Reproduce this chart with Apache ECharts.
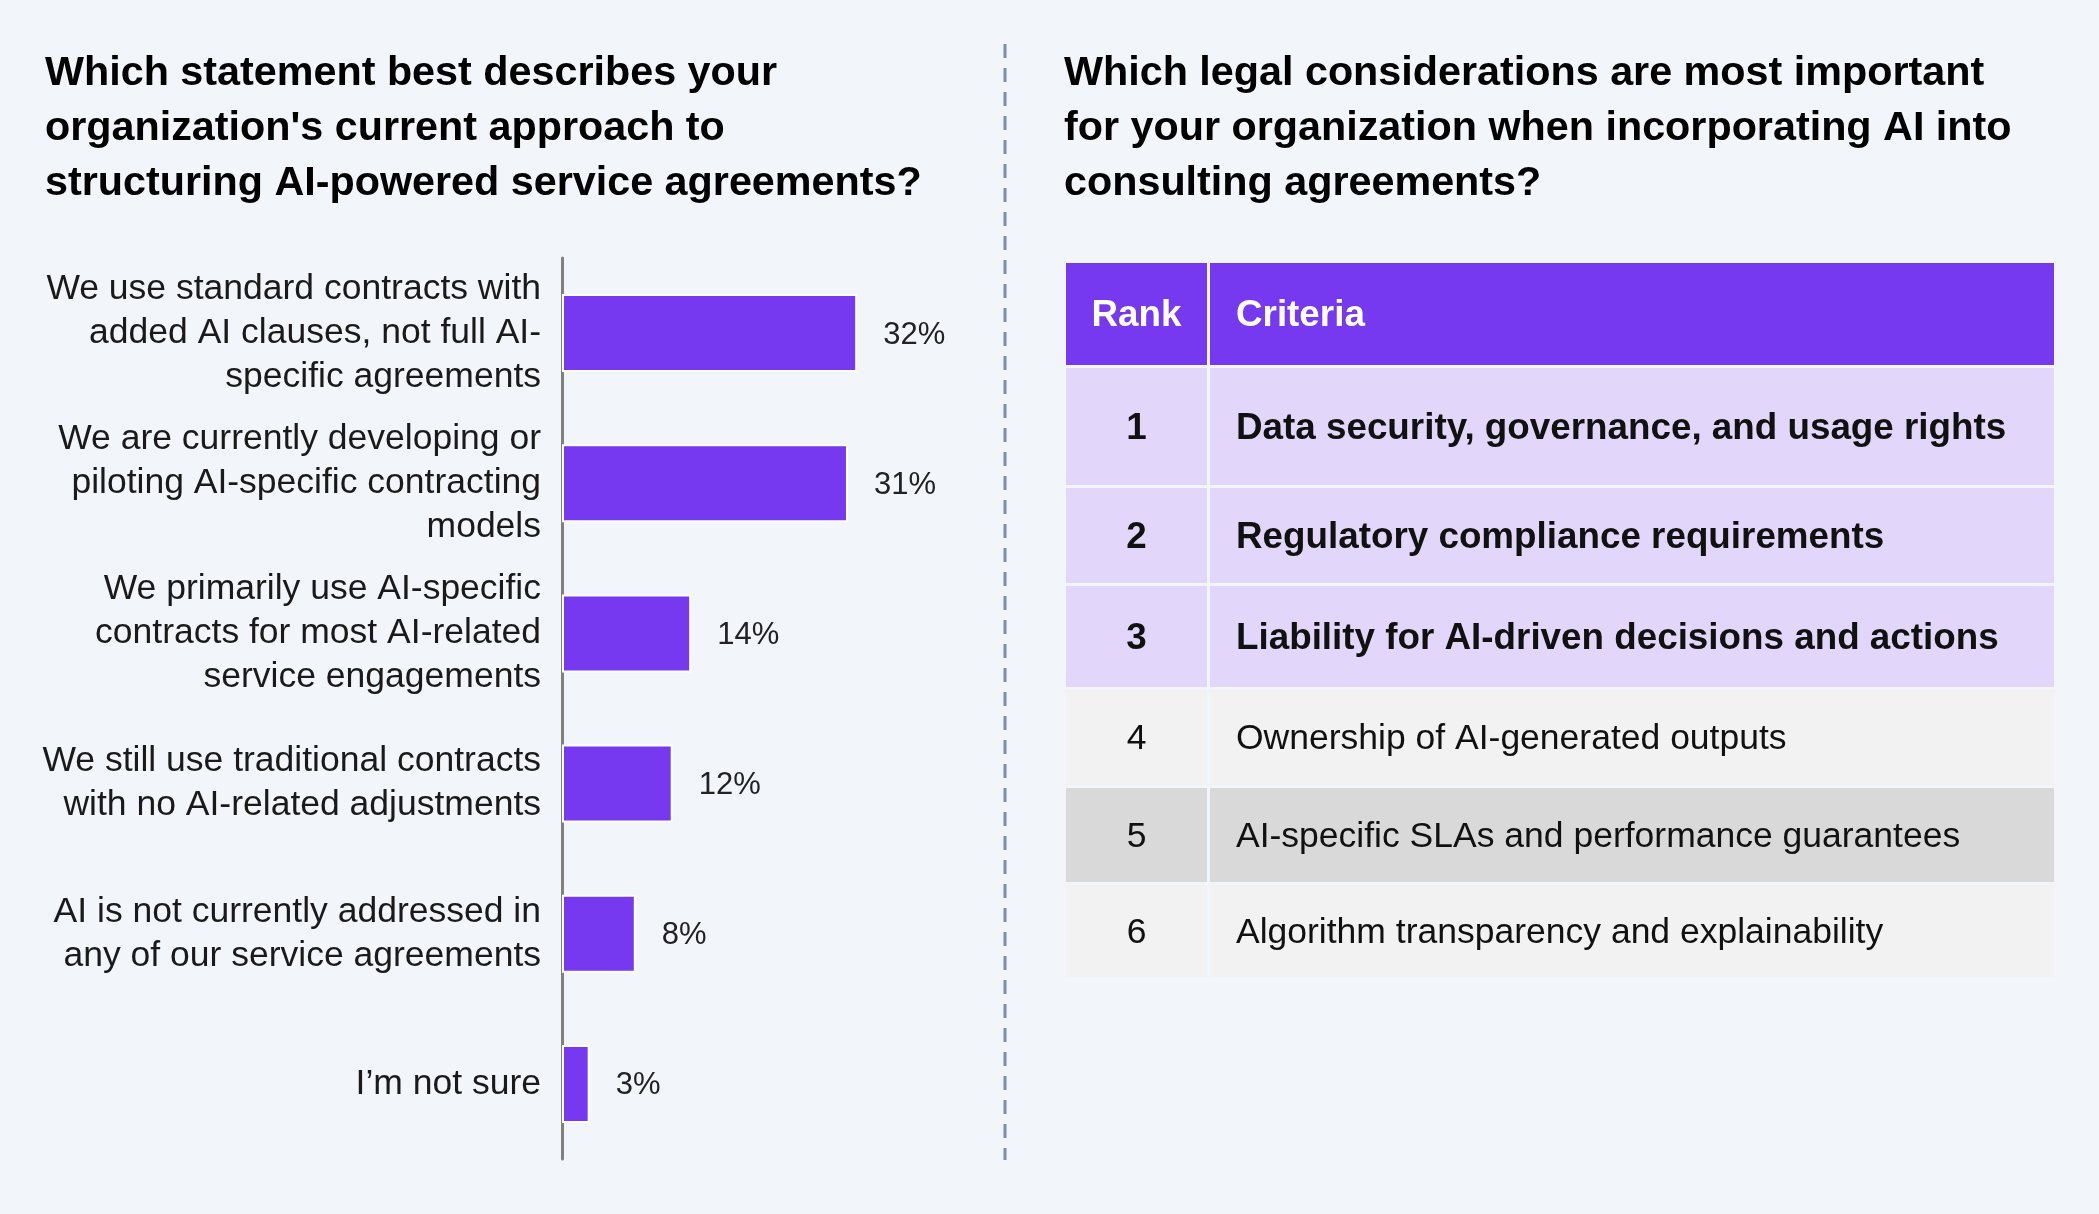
<!DOCTYPE html>
<html>
<head>
<meta charset="utf-8">
<title>AI service agreements</title>
<script src="https://cdn.jsdelivr.net/npm/echarts@6/dist/echarts.min.js"></script>
<style>
  html, body { margin: 0; padding: 0; background: #f2f5f9; }
  #chart { width: 2099px; height: 1214px; }
</style>
</head>
<body>
<div id="chart"></div>
<script>
// left: survey answers
const categories = [
  'We use standard contracts with\nadded AI clauses, not full AI-\nspecific agreements',
  'We are currently developing or\npiloting AI-specific contracting\nmodels',
  'We primarily use AI-specific\ncontracts for most AI-related\nservice engagements',
  'We still use traditional contracts\nwith no AI-related adjustments',
  'AI is not currently addressed in\nany of our service agreements',
  'I\u2019m not sure'
]
const shares = [32, 31, 14, 12, 8, 3]

// right: ranking table
const tableHeader = ['Rank', 'Criteria']
const ranks = [1, 2, 3, 4, 5, 6]
const criteria = [
  'Data security, governance, and usage rights',
  'Regulatory compliance requirements',
  'Liability for AI-driven decisions and actions',
  'Ownership of AI-generated outputs',
  'AI-specific SLAs and performance guarantees',
  'Algorithm transparency and explainability'
]

const leftTitle = 'Which statement best describes your\norganization\'s current approach to\nstructuring AI-powered service agreements?'
const rightTitle = 'Which legal considerations are most important\nfor your organization when incorporating AI into\nconsulting agreements?'

const FONT = '"Liberation Sans", Arial, Helvetica, sans-serif'
const PURPLE = '#7639f0'

/** table layout: header + 6 rows, heights in px incl. 3px gap */
const rowHeights = [105, 120, 98, 104, 98, 97, 95]
const rowFills = [PURPLE, '#e2d7fa', '#e2d7fa', '#e2d7fa', '#f2f2f2', '#d9d9d9', '#f2f2f2']
const rowTops = []
rowHeights.reduce((acc, h) => { rowTops.push(acc); return acc + h }, 0)
const tableHeight = rowHeights.reduce((a, b) => a + b, 0)
const rankCol = 141 / 988
const colGap = 3 / 988
const cellGap = 3

const tableRows = [tableHeader].concat(ranks.map((r, i) => [String(r), criteria[i]]))

function renderRow(params, api) {
  const i = params.dataIndex
  const row = tableRows[i]
  const top = rowTops[i]
  const bottom = top + rowHeights[i] - cellGap
  const a = api.coord([0, top])
  const b = api.coord([rankCol, bottom])
  const c = api.coord([rankCol + colGap, top])
  const d = api.coord([1, bottom])
  const midY = (a[1] + b[1]) / 2 + 2
  const isHeader = i === 0
  const bold = i <= 3
  const textFill = isHeader ? '#ffffff' : '#111111'
  const fill = rowFills[i]
  const fontSize = bold ? 36.8 : 35.5
  return {
    type: 'group',
    children: [
      { type: 'rect', shape: { x: a[0], y: a[1], width: b[0] - a[0], height: b[1] - a[1] }, style: { fill } },
      { type: 'rect', shape: { x: c[0], y: c[1], width: d[0] - c[0], height: d[1] - c[1] }, style: { fill } },
      {
        type: 'text',
        x: (a[0] + b[0]) / 2,
        y: midY,
        style: {
          text: row[0], fill: textFill, align: 'center', verticalAlign: 'middle',
          fontSize, fontWeight: bold ? 'bold' : 'normal', fontFamily: FONT
        }
      },
      {
        type: 'text',
        x: c[0] + 26,
        y: midY,
        style: {
          text: row[1], fill: textFill, align: 'left', verticalAlign: 'middle',
          fontSize, fontWeight: bold ? 'bold' : 'normal', fontFamily: FONT
        }
      }
    ]
  }
}

const chart = echarts.init(document.getElementById('chart'))
const option = {
  backgroundColor: '#f2f5f9',
  animation: false,
  textStyle: { fontFamily: FONT },
  title: [
    {
      text: leftTitle, left: 45, top: 46, padding: 0,
      textStyle: { fontSize: 41.3, fontWeight: 'bold', color: '#000', lineHeight: 55, fontFamily: FONT }
    },
    {
      text: rightTitle, left: 1064, top: 46, padding: 0,
      textStyle: { fontSize: 41.3, fontWeight: 'bold', color: '#000', lineHeight: 55, fontFamily: FONT }
    }
  ],
  graphic: [
    {
      type: 'line',
      shape: { x1: 1005, y1: 44, x2: 1005, y2: 1160 },
      style: { stroke: '#7b8fae', lineWidth: 3, lineDash: [14, 10] }
    }
  ],
  grid: [
    { left: 562, top: 258, right: 1168, bottom: 55, outerBoundsMode: 'none' },
    { left: 1066, top: 263, right: 45, height: tableHeight, outerBoundsMode: 'none' }
  ],
  xAxis: [
    { type: 'value', gridIndex: 0, min: 0, max: 40, show: false },
    { type: 'value', gridIndex: 1, min: 0, max: 1, show: false }
  ],
  yAxis: [
    {
      type: 'category',
      gridIndex: 0,
      inverse: true,
      data: categories,
      axisLine: { show: true, lineStyle: { color: '#808080', width: 3 } },
      axisTick: { show: false },
      splitLine: { show: false },
      axisLabel: {
        margin: 21,
        fontSize: 35.5,
        lineHeight: 44,
        padding: [6, 0, 0, 0],
        color: '#1a1a1a',
        fontFamily: FONT
      }
    },
    { type: 'value', gridIndex: 1, inverse: true, min: 0, max: tableHeight, show: false }
  ],
  series: [
    {
      type: 'bar',
      xAxisIndex: 0,
      yAxisIndex: 0,
      data: shares,
      barWidth: 78,
      itemStyle: { color: PURPLE, borderColor: '#ffffff', borderWidth: 2 },
      label: {
        show: true,
        position: 'right',
        distance: 26,
        offset: [0, 2],
        formatter: '{c}%',
        fontSize: 31,
        color: '#222',
        fontFamily: FONT
      }
    },
    {
      type: 'custom',
      xAxisIndex: 1,
      yAxisIndex: 1,
      clip: false,
      data: tableRows.map((r, i) => [0.5, rowTops[i]]),
      renderItem: renderRow
    }
  ]
}
chart.setOption(option)
</script>
</body>
</html>
